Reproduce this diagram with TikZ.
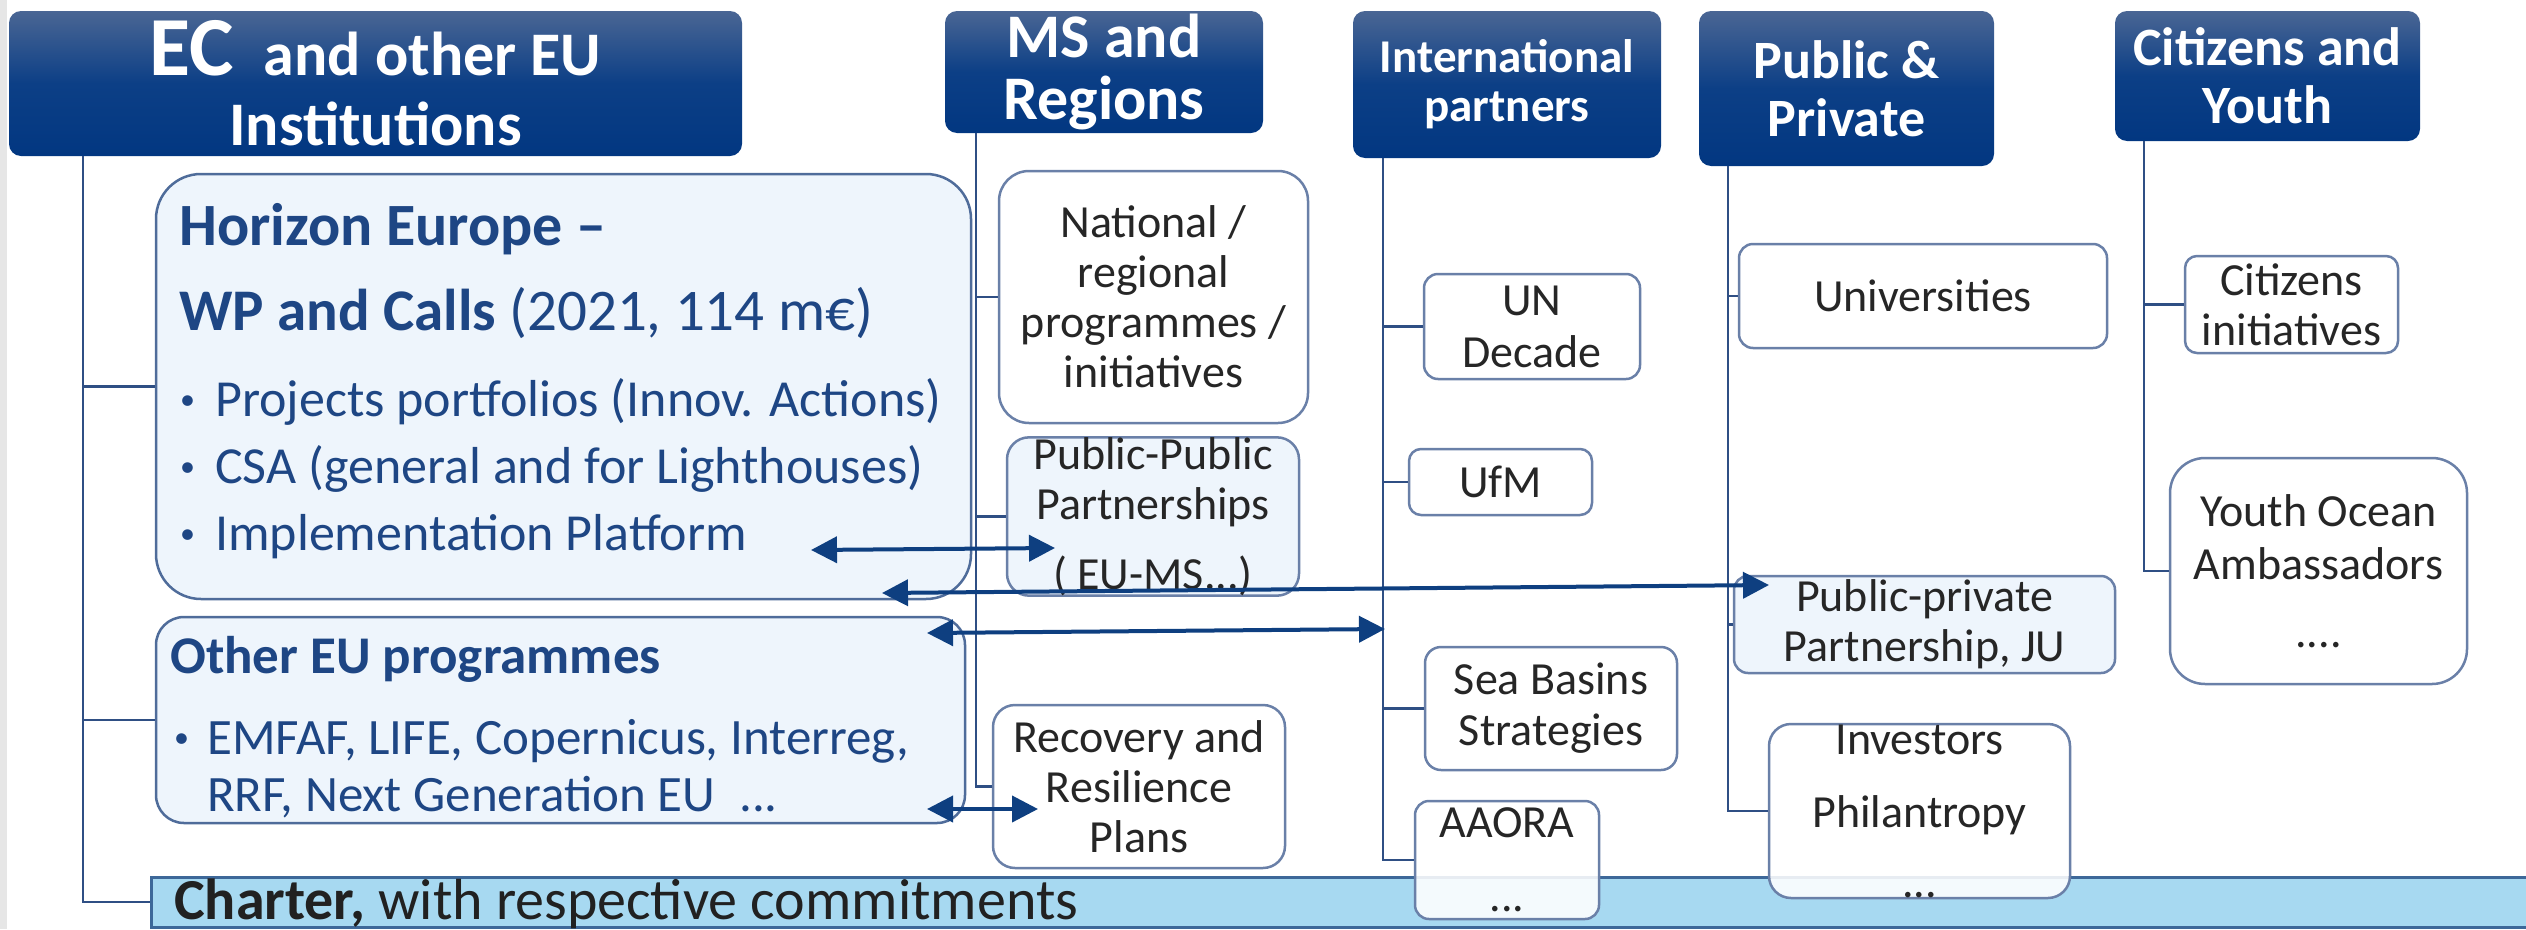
\documentclass[tikz,border=0pt]{standalone}
\usepackage{fontspec}
\setmainfont{Carlito}
\usetikzlibrary{arrows.meta}
\definecolor{hdrA}{HTML}{4A6694}
\definecolor{hdrB}{HTML}{0C3F86}
\definecolor{hdrC}{HTML}{023781}
\definecolor{boxln}{HTML}{6A80A8}
\definecolor{boxlnd}{HTML}{4F6C9A}
\definecolor{boxfill}{HTML}{EEF5FC}
\definecolor{connc}{HTML}{2F4F84}
\definecolor{arrc}{HTML}{0E3F80}
\definecolor{eublue}{HTML}{1E4684}
\definecolor{txtdk}{HTML}{262626}
\definecolor{bandfill}{HTML}{A7D9F1}
\definecolor{bandln}{HTML}{3D6899}
\definecolor{stripgray}{HTML}{E6E6E6}
\newcommand{\myfs}[2]{\fontsize{#1pt}{#2pt}\selectfont}
\newcommand{\smbul}{{\fontsize{30pt}{30pt}\selectfont\raisebox{7pt}{•}}}
\tikzset{
  hdr/.style={rounded corners=12pt, top color=hdrA, bottom color=hdrC, middle color=hdrB,
    text=white, font=\bfseries, align=center, inner sep=0pt},
  wbox/.style={draw=boxln, line width=2.5pt, fill=white, align=center, inner sep=0pt,
    text=txtdk, font={\myfs{46}{50}}},
  lbox/.style={wbox, fill=boxfill},
  eubox/.style={draw=boxlnd, line width=2.5pt, fill=boxfill, inner sep=0pt},
  conn/.style={draw=connc, line width=2.2pt},
  biarr/.style={draw=arrc, line width=4pt,
    {Triangle[length=26pt,width=26pt]}-{Triangle[length=26pt,width=26pt]}},
  eutxt/.style={anchor=base west, inner sep=0pt, text=eublue},
}
\begin{document}
\begin{tikzpicture}[x=1pt,y=-1pt]
\useasboundingbox (0,0) rectangle (2526,929);
\fill[stripgray] (0,0) rectangle (7,929);

% headers
\node[hdr, minimum width=733pt, minimum height=145pt, font={\bfseries\myfs{62}{70}}] (ec) at (375.5,83.5)
  {{\fontsize{84pt}{70pt}\selectfont EC}\hspace{30pt}and other EU\\Institutions};
\node[hdr, minimum width=318pt, minimum height=122pt, font={\bfseries\myfs{62}{62}}] (ms) at (1104,72) {MS and\\Regions};
\node[hdr, minimum width=308pt, minimum height=147pt, font={\bfseries\myfs{47}{49}}] (intl) at (1507,84.5) {International\\partners};
\node[hdr, minimum width=295pt, minimum height=155pt, font={\bfseries\myfs{54}{58}}] (pub) at (1846.5,88.5) {Public \&\\Private};
\node[hdr, minimum width=305pt, minimum height=130pt, font={\bfseries\myfs{54}{58}}] (cit) at (2267.5,76) {Citizens and\\Youth};

% EU boxes
\node[eubox, rounded corners=45pt, minimum width=815pt, minimum height=425pt] (hor) at (563.5,386.5) {};
\node[eutxt, font={\bfseries\myfs{60}{60}}] (hort1) at (179,245) {Horizon Europe –};
\node[eutxt, font={\myfs{59}{60}}] (hort2) at (179,330) {\textbf{WP and Calls} (2021, 114 m€)};
\node[eutxt, font={\myfs{52}{60}}] (hb1) at (180,416) {\makebox[35pt][l]{\smbul}Projects portfolios (Innov. Actions)};
\node[eutxt, font={\myfs{52}{60}}] (hb2) at (180,483) {\makebox[35pt][l]{\smbul}CSA (general and for Lighthouses)};
\node[eutxt, font={\myfs{52}{60}}] (hb3) at (180,550) {\makebox[35pt][l]{\smbul}Implementation Platform};

\node[eubox, rounded corners=28pt, minimum width=809pt, minimum height=206pt] (oth) at (560.5,720) {};
\node[eutxt, font={\bfseries\myfs{53}{60}}] (otht1) at (170,673) {Other EU programmes};
\node[eutxt, font={\myfs{51}{60}}] (ob1) at (174,754) {\makebox[33pt][l]{\smbul}EMFAF, LIFE, Copernicus, Interreg,};
\node[eutxt, font={\myfs{51}{60}}] (ob2) at (207,811) {RRF, Next Generation EU\hspace{24pt}...};

% MS column boxes
\node[wbox, rounded corners=30pt, minimum width=309pt, minimum height=252pt] (nat) at (1153.5,297)
  {National /\\regional\\programmes /\\initiatives};
\node[lbox, rounded corners=22pt, minimum width=292pt, minimum height=157pt] (pp) at (1153,516.5)
  {Public-Public\\Partnerships\\[20pt]( EU-MS...)};
\node[wbox, rounded corners=22pt, minimum width=292pt, minimum height=163pt] (rec) at (1139,786.5)
  {Recovery and\\Resilience\\Plans};

% International column
\node[wbox, rounded corners=14pt, minimum width=216pt, minimum height=105pt] (un) at (1532,326.5) {UN\\[2pt]Decade};
\node[wbox, rounded corners=12pt, minimum width=183pt, minimum height=66pt] (ufm) at (1500.5,482) {UfM};
\node[wbox, rounded corners=16pt, minimum width=252pt, minimum height=123pt] (sea) at (1551,708.5) {Sea Basins\\[1pt]Strategies};

% Public & Private column
\node[wbox, rounded corners=14pt, minimum width=368pt, minimum height=104pt] (univ) at (1923,296) {Universities};
\node[lbox, rounded corners=14pt, minimum width=381pt, minimum height=97pt] (ppp) at (1924.5,624.5) {Public-private\\Partnership, JU};

% Citizens column
\node[wbox, rounded corners=12pt, minimum width=213pt, minimum height=97pt] (ci) at (2291.5,304.5) {Citizens\\initiatives};
\node[wbox, rounded corners=35pt, minimum width=297pt, minimum height=226pt] (youth) at (2318.5,571)
  {Youth Ocean\\[3pt]Ambassadors\\[18pt]....};

% Charter band
\node[draw=bandln, fill=bandfill, line width=3pt, minimum width=2389pt, minimum height=50pt, inner sep=0pt] (charter) at (1345.5,902) {};
\node[anchor=base west, inner sep=0pt, text={black!87}, font={\myfs{58}{60}}] (chartxt) at (174,919)
  {\textbf{Charter,} with respective commitments};

% boxes lying over the band
\node[wbox, fill opacity=0.88, text opacity=1, rounded corners=14pt, minimum width=184pt, minimum height=118pt] (aaora) at (1507,860)
  {AAORA\\[24pt]...};
\node[wbox, fill opacity=0.88, text opacity=1, rounded corners=22pt, minimum width=301pt, minimum height=174pt] (inv) at (1919.5,811)
  {Investors\\[23pt]Philantropy\\[20pt]...};

% trunk coordinates
\coordinate (ecT) at (83,156);
\coordinate (msT) at (976,133);
\coordinate (intlT) at (1383,158);
\coordinate (pubT) at (1728,166);
\coordinate (citT) at (2144,141);

% tree connectors
\draw[conn] (ecT) |- (hor.west);
\draw[conn] (ecT) |- (oth.west);
\draw[conn] (ecT) |- (charter.west);
\draw[conn] (msT) |- (nat.west);
\draw[conn] (msT) |- (pp.west);
\draw[conn] (msT) |- (rec.west);
\draw[conn] (intlT) |- (un.west);
\draw[conn] (intlT) |- (ufm.west);
\draw[conn] (intlT) |- (sea.west);
\draw[conn] (intlT) |- (aaora.west);
\draw[conn] (pubT) |- (univ.west);
\draw[conn] (pubT) |- (ppp.west);
\draw[conn] (pubT) |- (inv.west);
\draw[conn] (citT) |- (ci.west);
\draw[conn] (citT) |- (youth.west);

% double arrows
\coordinate (a1L) at (811,550);
\coordinate (a1R) at (1055,548);
\coordinate (a2L) at (882,593);
\coordinate (a2R) at (1769,585);
\coordinate (a3L) at (927,633);
\coordinate (a3R) at (1385,629);
\coordinate (a4L) at (927,809);
\coordinate (a4R) at (1038,809);
\draw[biarr] (a1L) -- (a1R);
\draw[biarr] (a2L) -- (a2R);
\draw[biarr] (a3L) -- (a3R);
\draw[biarr] (a4L) -- (a4R);
\end{tikzpicture}
\end{document}
